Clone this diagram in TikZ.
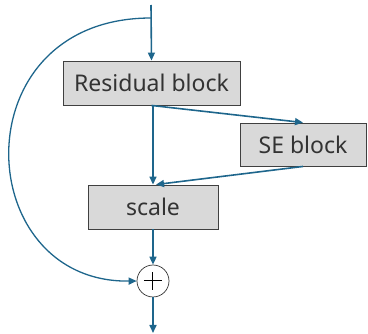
\documentclass[tikz,border=0pt]{standalone}
\usepackage{fontspec}
\setmainfont{Noto Sans}
\usetikzlibrary{arrows.meta}
\definecolor{flow}{RGB}{30,102,140}
\definecolor{boxgray}{RGB}{217,217,217}
\begin{document}
\begin{tikzpicture}[x=1pt,y=-1pt,
  blockbox/.style={draw=black!75,fill=boxgray,line width=0.9pt,inner sep=0pt,
    font=\fontsize{23}{27}\selectfont,text=black!80},
  sumnode/.style={draw=black!80,fill=white,circle,minimum size=32pt,inner sep=0pt,line width=0.7pt,
    path picture={\draw[black,line width=1pt]
      ([xshift=-9pt]path picture bounding box.center) -- ([xshift=9pt]path picture bounding box.center)
      ([yshift=-9pt]path picture bounding box.center) -- ([yshift=9pt]path picture bounding box.center);}},
  flowline/.style={draw=flow,line width=1.6pt,-{Triangle[length=8pt,width=7pt]}}]
\useasboundingbox (0,0) rectangle (368,334);
% boxes
\node[blockbox,minimum width=177pt,minimum height=44pt] (res) at (151.5,83) {Residual block};
\node[blockbox,minimum width=126pt,minimum height=43pt] (se) at (303,144.5) {SE block};
\node[blockbox,minimum width=130pt,minimum height=44pt] (scale) at (153,207) {scale};
\node[sumnode] (sum) at (153,281) {};
\coordinate (in) at (151,5);
\coordinate (split) at (151,18);
\coordinate (out) at (153,333);
% main path
\draw[flowline] (in) -- (res.north);
\draw[flowline] (res.south -| scale.north) -- (scale.north);
\draw[flowline] (res.south) -- (se.north);
\draw[flowline] (se.south) -- ([xshift=3pt]scale.north);
\draw[flowline] (scale.south) -- (sum.north);
\draw[flowline] (sum.south) -- (out);
% skip connection
\draw[flowline,line width=1.3pt] (split) .. controls (-40,18) and (-30,283) .. (sum.west);
\end{tikzpicture}
\end{document}
